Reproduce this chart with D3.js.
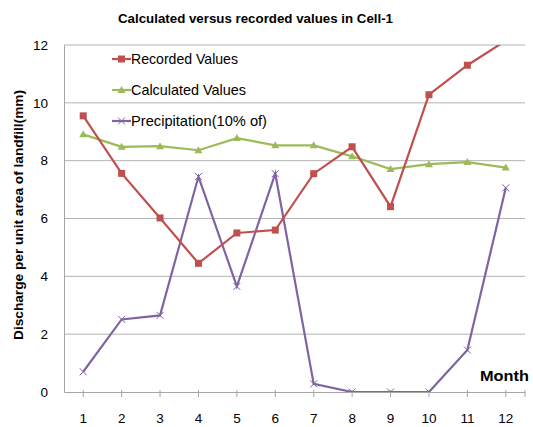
<!DOCTYPE html>
<html><head><meta charset="utf-8">
<script src="https://cdn.jsdelivr.net/npm/d3@7"></script>
<style>body{margin:0;background:#fff}svg text{font-family:"Liberation Sans",Arial,sans-serif}</style>
</head><body><svg id="c" width="533" height="427"></svg>
<script>
const months = ["1","2","3","4","5","6","7","8","9","10","11","12"];
const recorded = [9.55,7.56,6.02,4.45,5.5,5.6,7.55,8.48,6.41,10.28,11.3,12.15];
const calculated = [8.91,8.48,8.5,8.36,8.78,8.53,8.53,8.15,7.71,7.88,7.95,7.76];
const precipitation = [0.7,2.51,2.65,7.45,3.65,7.55,0.28,0,0,0,1.45,7.06];
const yTicks = [0,2,4,6,8,10,12];
const seriesNames = ["Recorded Values","Calculated Values","Precipitation(10% of)"];
const colors = ["#C0504D","#9BBB59","#8064A2"];

const svg = d3.select("#c");
const L=64,R=525,T=45,B=392;
const x = d3.scaleBand().domain(months).range([L,R]);
const y = d3.scaleLinear().domain([0,12]).range([B,T]);
const cx = d => x(d)+x.bandwidth()/2;

svg.append("text").attr("x",118).attr("y",23)
  .attr("font-size","13px").attr("font-weight","bold")
  .attr("textLength",275).attr("lengthAdjust","spacingAndGlyphs")
  .text("Calculated versus recorded values in Cell-1");

svg.append("defs").append("clipPath").attr("id","clip").append("rect")
  .attr("x",L).attr("y",T).attr("width",R-L).attr("height",B-T);

// gridlines
svg.append("g").selectAll("line").data(yTicks.filter(v=>v>0)).join("line")
  .attr("x1",L).attr("x2",R).attr("y1",d=>y(d)).attr("y2",d=>y(d))
  .attr("stroke","#b3b3b3").attr("stroke-width",1);

// y axis
const ya = svg.append("g").attr("transform",`translate(${L},0)`)
  .call(d3.axisLeft(y).tickValues(yTicks).tickSize(0).tickPadding(16));
ya.select(".domain").attr("stroke","#a6a6a6");
ya.selectAll("text").attr("font-size","13.5px").attr("fill","#000").attr("font-family","Liberation Sans, Arial, sans-serif");

// x axis
const xa = svg.append("g").attr("transform",`translate(0,${B})`)
  .call(d3.axisBottom(x).tickSize(0).tickPadding(21));
xa.select(".domain").attr("stroke","#a6a6a6");
xa.selectAll("text").attr("font-size","13.5px").attr("fill","#000").attr("font-family","Liberation Sans, Arial, sans-serif");
svg.append("g").selectAll("line").data(months).join("line")
  .attr("x1",d=>cx(d)).attr("x2",d=>cx(d)).attr("y1",B-2).attr("y2",B+5)
  .attr("stroke","#a6a6a6");
svg.append("line").attr("x1",R).attr("x2",R).attr("y1",B-2).attr("y2",B+5).attr("stroke","#a6a6a6");

// axis titles
svg.append("text").attr("transform",`translate(23,340) rotate(-90)`)
  .attr("font-size","13.5px").attr("font-weight","bold")
  .attr("textLength",250).attr("lengthAdjust","spacingAndGlyphs")
  .text("Discharge per unit area of landfill(mm)");
svg.append("text").attr("x",480).attr("y",381)
  .attr("font-size","15px").attr("font-weight","bold")
  .attr("textLength",49).attr("lengthAdjust","spacingAndGlyphs").text("Month");

const line = d3.line().x((d,i)=>cx(months[i])).y(d=>y(d));
const plot = svg.append("g").attr("clip-path","url(#clip)");
const data = [recorded,calculated,precipitation];

function marker(g,type,px,py,col){
  if(type===0) g.append("rect").attr("x",px-3.5).attr("y",py-3.5).attr("width",7).attr("height",7).attr("fill",col);
  else if(type===1) g.append("path").attr("d",`M${px},${py-4}L${px+4},${py+3}L${px-4},${py+3}Z`).attr("fill",col);
  else g.append("path").attr("d",`M${px-3.5},${py-3.5}L${px+3.5},${py+3.5}M${px-3.5},${py+3.5}L${px+3.5},${py-3.5}`).attr("stroke",col).attr("stroke-width",1).attr("fill","none");
}

[2,1,0].forEach(k=>{
  plot.append("path").datum(data[k]).attr("d",line).attr("fill","none")
    .attr("stroke",colors[k]).attr("stroke-width",2.2);
});
[2,1,0].forEach(k=>{
  const g = plot.append("g");
  data[k].forEach((v,i)=>marker(g,k,cx(months[i]),y(v),colors[k]));
});

// legend
const ly=[59,90,121];
const lw=[107,115,136];
seriesNames.forEach((n,k)=>{
  const g=svg.append("g");
  g.append("line").attr("x1",112).attr("x2",131).attr("y1",ly[k]).attr("y2",ly[k]).attr("stroke",colors[k]).attr("stroke-width",2.2);
  marker(g,k,121.5,ly[k],colors[k]);
  g.append("text").attr("x",131).attr("y",ly[k]+5).attr("font-size","14.5px")
    .attr("textLength",lw[k]).attr("lengthAdjust","spacingAndGlyphs").text(n);
});
</script></body></html>
